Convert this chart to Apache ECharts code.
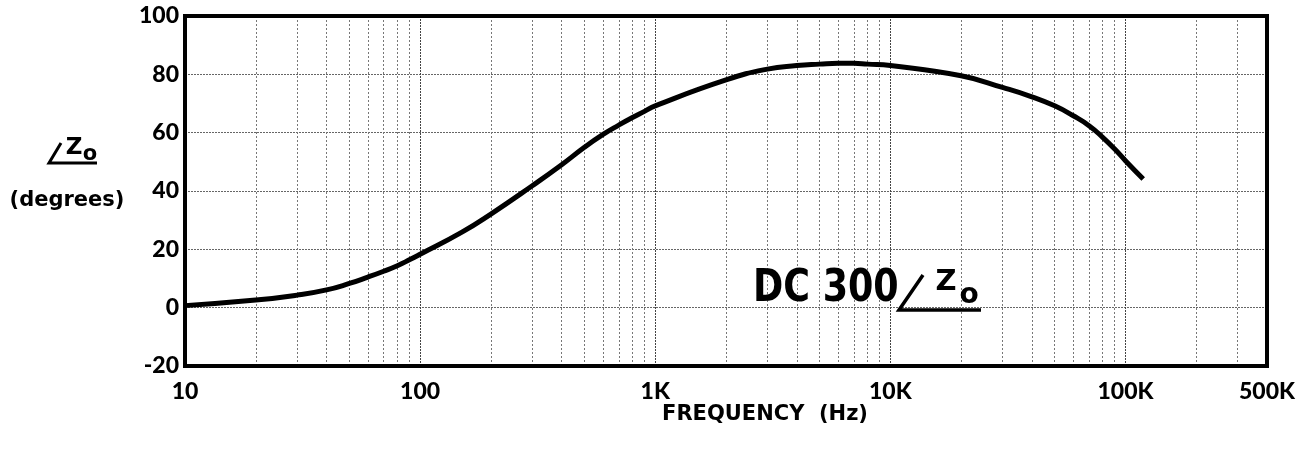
<!DOCTYPE html>
<html>
<head>
<meta charset="utf-8">
<script src="https://cdn.jsdelivr.net/npm/echarts@6/dist/echarts.min.js"></script>
<style>
html,body{margin:0;padding:0;background:#fff;}
#c{width:1313px;height:455px;}
</style>
</head>
<body>
<div id="c"></div>
<script>
// Frequency (Hz) and phase angle of Zo (degrees)
var freq  = [10, 20, 30, 40, 50, 60, 70, 80, 90, 100, 150, 200, 300, 400, 500, 600, 700, 800, 900, 1000,
             2000, 3000, 4000, 5000, 6000, 7000, 8000, 10000, 20000, 30000, 40000, 50000, 60000, 70000,
             80000, 90000, 100000, 119000];
var phase = [0.7, 2.6, 4.3, 6.1, 8.3, 10.5, 12.5, 14.4, 16.4, 18.3, 25.8, 32.1, 41.8, 49.0, 55.0, 59.4, 62.6, 65.2, 67.3, 69.2,
             78.1, 81.8, 83.0, 83.5, 83.8, 83.8, 83.5, 83.0, 79.5, 75.5, 72.3, 69.2, 65.8, 62.4,
             58.4, 54.4, 50.4, 44.1];

// x tick labels (the right edge of the printed grid carries the "500K" label)
var xTickValues = [10, 100, 1000, 10000, 100000, 400000];
var xTickLabels = ['10', '100', '1K', '10K', '100K', '500K'];
var yTicks = [-20, 0, 20, 40, 60, 80, 100];

// minor vertical grid lines (2..9 within each decade)
var minorGrid = [];
[10, 100, 1000, 10000].forEach(function (d) {
  for (var m = 2; m <= 9; m++) minorGrid.push(m * d);
});
minorGrid.push(200000, 300000);

var points = freq.map(function (f, i) { return [f, phase[i]]; });

var chart = echarts.init(document.getElementById('c'), null, {renderer: 'canvas'});
var tickFont = {fontFamily: 'Lato, "DejaVu Sans", sans-serif', fontWeight: 900, fontSize: 23, color: '#000'};

chart.setOption({
  animation: false,
  backgroundColor: '#fff',
  grid: {left: 185, top: 16, right: 46, bottom: 89, show: true, borderColor: '#000', borderWidth: 4, backgroundColor: 'transparent', z: 10},
  xAxis: {
    type: 'log', logBase: 10, min: 10, max: 400000,
    axisLine: {show: false}, axisTick: {show: false},
    splitLine: {show: true, lineStyle: {color: '#444', width: 1, type: [2, 1]}},
    axisLabel: Object.assign({margin: 14, showMaxLabel: true, formatter: function (v) {
      for (var i = 0; i < xTickValues.length; i++) {
        if (Math.abs(Math.log10(v) - Math.log10(xTickValues[i])) < 1e-6) return xTickLabels[i];
      }
      return '';
    }}, tickFont)
  },
  yAxis: {
    type: 'value', min: yTicks[0], max: yTicks[yTicks.length - 1], interval: 20,
    axisLine: {show: false}, axisTick: {show: false},
    splitLine: {show: true, lineStyle: {color: '#666', width: 1.2, type: [2, 1]}},
    axisLabel: Object.assign({margin: 6}, tickFont)
  },
  series: [
    {
      type: 'line', data: [], silent: true, z: 1,
      markLine: {
        silent: true, symbol: ['none', 'none'], label: {show: false}, animation: false,
        lineStyle: {color: '#777', width: 1, type: [2, 2]},
        data: minorGrid.map(function (v) { return {xAxis: v}; })
      }
    },
    {
      type: 'line', data: points, smooth: 0.5, showSymbol: false, z: 5,
      lineStyle: {color: '#000', width: 5}
    }
  ],
  graphic: [
    {type: 'text', x: 753, y: 289, scaleX: 0.9, z: 20, style: {text: 'DC 300', fill: '#000', font: 'bold 45px "Liberation Sans Narrow", "DejaVu Sans Condensed", sans-serif', verticalAlign: 'middle', align: 'left'}},
    {type: 'polyline', z: 20, shape: {points: [[923, 275], [899, 310], [981, 310]]}, style: {stroke: '#000', lineWidth: 3.5, fill: null}},
    {type: 'text', x: 946, y: 282, z: 20, style: {text: 'Z', fill: '#000', font: 'bold 29px "DejaVu Sans", sans-serif', align: 'center', verticalAlign: 'middle'}},
    {type: 'text', x: 969, y: 296, z: 20, style: {text: 'o', fill: '#000', font: 'bold 28px "DejaVu Sans", sans-serif', align: 'center', verticalAlign: 'middle'}},

    {type: 'polyline', z: 20, shape: {points: [[61, 143], [49, 163], [97, 163]]}, style: {stroke: '#000', lineWidth: 3, fill: null}},
    {type: 'text', x: 74, y: 148, z: 20, style: {text: 'Z', fill: '#000', font: 'bold 23px "DejaVu Sans", sans-serif', align: 'center', verticalAlign: 'middle'}},
    {type: 'text', x: 90, y: 155, z: 20, style: {text: 'o', fill: '#000', font: 'bold 21px "DejaVu Sans", sans-serif', align: 'center', verticalAlign: 'middle'}},
    {type: 'text', x: 67, y: 201, z: 20, style: {text: '(degrees)', fill: '#000', font: 'bold 21px "DejaVu Sans", sans-serif', align: 'center', verticalAlign: 'middle'}},

    {type: 'text', x: 765, y: 415, z: 20, style: {text: 'FREQUENCY  (Hz)', fill: '#000', font: 'bold 21px "DejaVu Sans", sans-serif', align: 'center', verticalAlign: 'middle'}}
  ]
});
</script>
</body>
</html>
